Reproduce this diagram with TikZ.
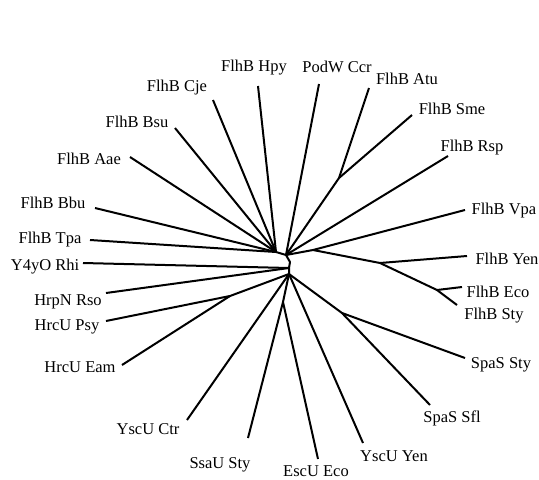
\documentclass[tikz,border=0pt]{standalone}
\usepackage{fontspec}
\setmainfont{Liberation Serif}
\begin{document}
\begin{tikzpicture}[x=1pt,y=-1pt,
  br/.style={line width=2pt, line cap=butt, line join=round},
  lab/.style={font=\fontsize{16.5}{18}\selectfont, inner sep=0pt}]
\useasboundingbox[fill=white] (0,0) rectangle (539,480);
% labels
\node[lab] (hpy) at (254,68) {FlhB Hpy};
\node[lab] (ccr) at (337,67) {PodW Ccr};
\node[lab] (atu) at (407,79) {FlhB Atu};
\node[lab] (sme) at (452,109) {FlhB Sme};
\node[lab] (rsp) at (472,148) {FlhB Rsp};
\node[lab] (vpa) at (504,211) {FlhB Vpa};
\node[lab] (yen) at (507,259) {FlhB Yen};
\node[lab] (eco) at (498,292) {FlhB Eco};
\node[lab] (fsty) at (494,316) {FlhB Sty};
\node[lab] (ssty) at (501,365) {SpaS Sty};
\node[lab] (sfl) at (452,418) {SpaS Sfl};
\node[lab] (yyen) at (394,456) {YscU Yen};
\node[lab] (escu) at (316,471) {EscU Eco};
\node[lab] (ssau) at (220,465) {SsaU Sty};
\node[lab] (ctr) at (148,429) {YscU Ctr};
\node[lab] (eam) at (80,367) {HrcU Eam};
\node[lab] (psy) at (67,327) {HrcU Psy};
\node[lab] (rso) at (68,302) {HrpN Rso};
\node[lab] (rhi) at (45,267) {Y4yO Rhi};
\node[lab] (tpa) at (50,240) {FlhB Tpa};
\node[lab] (bbu) at (53,203) {FlhB Bbu};
\node[lab] (aae) at (89,159) {FlhB Aae};
\node[lab] (bsu) at (137,122) {FlhB Bsu};
\node[lab] (cje) at (177,88) {FlhB Cje};
% leaf ends
\coordinate (lhpy) at (258,86);
\coordinate (lccr) at (319,84);
\coordinate (latu) at (369,88);
\coordinate (lsme) at (412,115);
\coordinate (lrsp) at (448,156);
\coordinate (lvpa) at (465,210);
\coordinate (lyen) at (467,256);
\coordinate (leco) at (462,287);
\coordinate (lfsty) at (457,305);
\coordinate (lssty) at (465,358);
\coordinate (lsfl) at (430,405);
\coordinate (lyyen) at (363,443);
\coordinate (lescu) at (318,459);
\coordinate (lssau) at (248,438);
\coordinate (lctr) at (187,420);
\coordinate (leam) at (122,365);
\coordinate (lpsy) at (106,321);
\coordinate (lrso) at (106,293);
\coordinate (lrhi) at (83,263);
\coordinate (ltpa) at (90,240);
\coordinate (lbbu) at (95,208);
\coordinate (laae) at (130,157);
\coordinate (lbsu) at (175,128);
\coordinate (lcje) at (213,100);
% internal nodes
\coordinate (NL) at (276,252);
\coordinate (N1) at (286,255);
\coordinate (AS) at (339,178);
\coordinate (VY) at (313,250);
\coordinate (YE) at (380,263);
\coordinate (ES) at (437,290);
\coordinate (NM) at (290,262);
\coordinate (NR) at (289,268);
\coordinate (N2) at (289,274);
\coordinate (PE) at (230,296);
\coordinate (SE) at (283,302);
\coordinate (SP) at (342,313);
% branches
\draw[br] (N1) -- (NL);
\foreach \l in {lhpy,lcje,lbsu,laae,lbbu,ltpa} \draw[br] (NL) -- (\l);
\draw[br] (N1) -- (lccr);
\draw[br] (N1) -- (AS) -- (lsme);
\draw[br] (AS) -- (latu);
\draw[br] (N1) -- (lrsp);
\draw[br] (N1) -- (VY) -- (lvpa);
\draw[br] (VY) -- (YE) -- (lyen);
\draw[br] (YE) -- (ES) -- (lfsty);
\draw[br] (ES) -- (leco);
\draw[br] (N1) -- (NM) -- (NR) -- (N2);
\draw[br] (NR) -- (lrhi);
\draw[br] (NR) -- (lrso);
\draw[br] (N2) -- (PE) -- (leam);
\draw[br] (PE) -- (lpsy);
\draw[br] (N2) -- (lctr);
\draw[br] (N2) -- (SE) -- (lssau);
\draw[br] (SE) -- (lescu);
\draw[br] (N2) -- (lyyen);
\draw[br] (N2) -- (SP) -- (lssty);
\draw[br] (SP) -- (lsfl);
\end{tikzpicture}
\end{document}
